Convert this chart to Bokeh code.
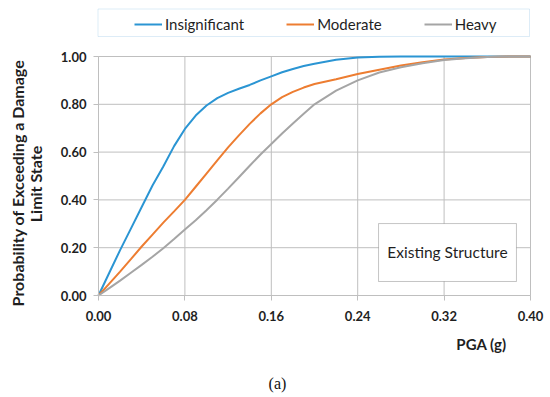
from bokeh.plotting import figure
from bokeh.models import (Range1d, FixedTicker, NumeralTickFormatter, Label,
                          BoxAnnotation, Legend, LegendItem)
from bokeh.embed import file_html
from bokeh.resources import INLINE
import math

# ---- data ----
pga = [0.00, 0.01, 0.02, 0.03, 0.04, 0.05, 0.06, 0.07, 0.08, 0.09, 0.10,
       0.11, 0.12, 0.13, 0.14, 0.15, 0.16, 0.17, 0.18, 0.19, 0.20,
       0.22, 0.24, 0.26, 0.28, 0.30, 0.32, 0.34, 0.36, 0.38, 0.40]
insignificant = [0.00, 0.095, 0.19, 0.28, 0.37, 0.46, 0.54, 0.625, 0.697, 0.753, 0.795,
                 0.826, 0.848, 0.865, 0.881, 0.90, 0.917, 0.934, 0.948, 0.960, 0.970,
                 0.986, 0.996, 0.999, 1.0, 1.0, 1.0, 1.0, 1.0, 1.0, 1.0]
moderate = [0.00, 0.05, 0.10, 0.152, 0.205, 0.255, 0.305, 0.352, 0.40, 0.455, 0.51,
            0.565, 0.62, 0.67, 0.718, 0.762, 0.80, 0.83, 0.852, 0.87, 0.885,
            0.905, 0.927, 0.945, 0.962, 0.976, 0.987, 0.994, 0.998, 1.0, 1.0]
heavy = [0.00, 0.031, 0.062, 0.095, 0.128, 0.162, 0.198, 0.236, 0.276, 0.315, 0.357,
         0.401, 0.447, 0.495, 0.543, 0.59, 0.634, 0.678, 0.72, 0.76, 0.80,
         0.857, 0.90, 0.933, 0.955, 0.972, 0.985, 0.993, 0.998, 1.0, 1.0]
x_ticks = [0.00, 0.08, 0.16, 0.24, 0.32, 0.40]
y_ticks = [0.00, 0.20, 0.40, 0.60, 0.80, 1.00]
series_names = ["Insignificant", "Moderate", "Heavy"]
colors = ["#2B95D3", "#ED7D31", "#A5A5A5"]

FONT = "Lato"
TXT = "#1f1f1f"
GRID = "#BFBFBF"

W, H = 550, 397
X0PX, Y0PX, XS, YS = 98, 295, 1080.0, 239.0   # data origin in px, px per data unit

p = figure(width=W, height=H, output_backend="svg", toolbar_location=None,
           x_range=Range1d(-X0PX / XS, (W - X0PX) / XS),
           y_range=Range1d(-(H - Y0PX) / YS, Y0PX / YS),
           min_border=0)
p.outline_line_color = None
p.background_fill_color = "white"
p.border_fill_color = "white"

for ax, ticks in ((p.xaxis, x_ticks), (p.yaxis, y_ticks)):
    ax.ticker = FixedTicker(ticks=ticks)
    ax.formatter = NumeralTickFormatter(format="0.00")
    ax.axis_line_color = GRID
    ax.major_tick_line_color = GRID
    ax.major_tick_in = 0
    ax.major_tick_out = 5
    ax.minor_tick_line_color = None
    ax.major_label_text_font = FONT
    ax.major_label_text_font_style = "bold"
    ax.major_label_text_font_size = "13px"
    ax.major_label_text_color = TXT
    ax.fixed_location = 0
p.yaxis.major_label_standoff = 7
p.xaxis.major_label_standoff = 10
p.yaxis.bounds = (y_ticks[0], y_ticks[-1])
p.xaxis.bounds = (x_ticks[0], x_ticks[-1])

# grid only inside the 0..1 / 0..0.40 data area
p.grid.visible = False
p.segment(x0=x_ticks, y0=[y_ticks[0]] * len(x_ticks), x1=x_ticks, y1=[y_ticks[-1]] * len(x_ticks),
          line_color=GRID, line_width=1)
p.segment(x0=[x_ticks[0]] * len(y_ticks), y0=y_ticks, x1=[x_ticks[-1]] * len(y_ticks), y1=y_ticks,
          line_color=GRID, line_width=1)

renderers = []
for ys, c in zip([insignificant, moderate, heavy], colors):
    r = p.line(pga, ys, line_color=c, line_width=2)
    renderers.append(r)

# legend frame (canvas px: x 97..529, y 8..36)
p.add_layout(BoxAnnotation(left=(97.5 - X0PX) / XS, right=(529 - X0PX) / XS,
                           top=(Y0PX - 8.5) / YS, bottom=(Y0PX - 36) / YS,
                           fill_color="white", fill_alpha=1, line_color="#8FC1E6", line_width=1))

legend = Legend(items=[LegendItem(label=n, renderers=[r]) for n, r in zip(series_names, renderers)],
                orientation="horizontal", location=(134, H - 34),
                border_line_color=None, background_fill_alpha=0,
                padding=0, margin=0, spacing=42, glyph_width=28, glyph_height=20,
                label_standoff=3, label_height=20,
                label_text_font=FONT, label_text_font_size="15px", label_text_color=TXT)
p.add_layout(legend, "center")

# Existing Structure box
p.add_layout(BoxAnnotation(left=0.2593, right=0.3870, top=0.301, bottom=0.0586,
                           fill_color="white", fill_alpha=1, line_color="#404040", line_width=1))
p.add_layout(Label(x=0.3231, y=0.18, text="Existing Structure", text_align="center",
                   text_baseline="middle", text_font=FONT, text_font_size="15.5px", text_color=TXT))

# y title (two lines)
p.add_layout(Label(x=17, y=182.5, x_units="canvas", y_units="canvas", angle=math.pi / 2,
                   text="Probability of Exceeding a Damage", text_align="center",
                   text_baseline="middle", text_font=FONT, text_font_style="bold",
                   text_font_size="16px", text_color=TXT))
p.add_layout(Label(x=35, y=183.5, x_units="canvas", y_units="canvas", angle=math.pi / 2,
                   text="Limit State", text_align="center",
                   text_baseline="middle", text_font=FONT, text_font_style="bold",
                   text_font_size="16px", text_color=TXT))
# x title and caption
p.add_layout(Label(x=481, y=343, x_units="canvas", y_units="canvas",
                   text="PGA (g)", text_align="center", text_baseline="middle",
                   text_font=FONT, text_font_style="bold", text_font_size="15px", text_color=TXT))
p.add_layout(Label(x=277, y=383, x_units="canvas", y_units="canvas",
                   text="(a)", text_align="center", text_baseline="middle",
                   text_font="Liberation Serif", text_font_size="16px", text_color="#111111"))

open("out.html", "w").write(file_html(p, INLINE))
